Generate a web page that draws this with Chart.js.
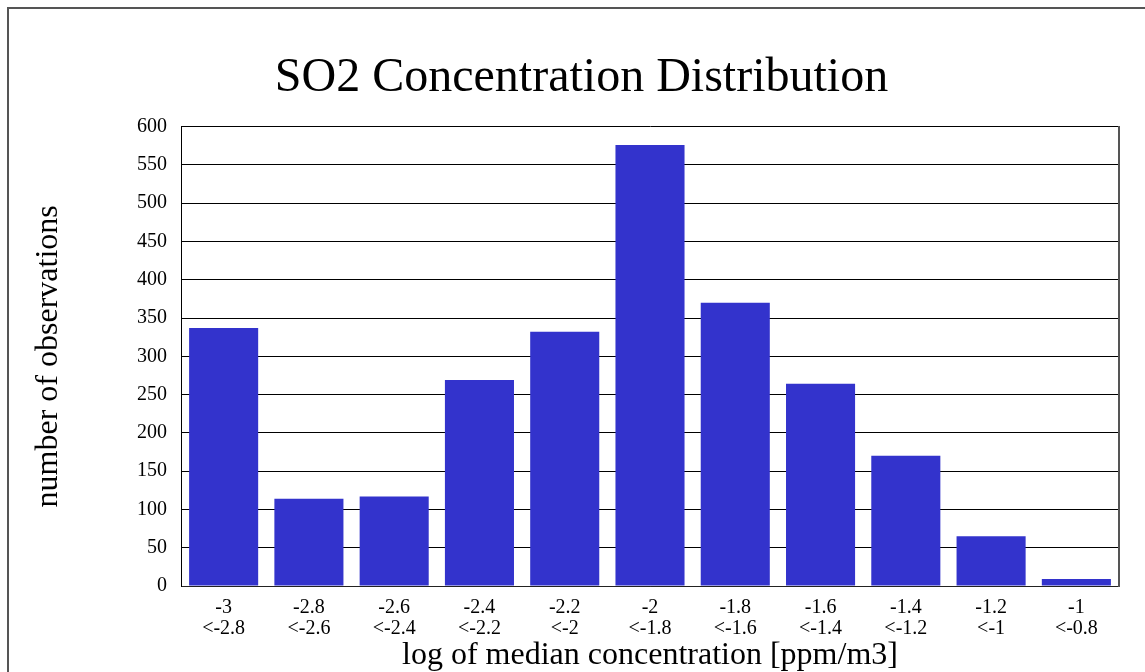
<!DOCTYPE html>
<html>
<head>
<meta charset="utf-8">
<script src="https://cdn.jsdelivr.net/npm/chart.js@4.4.1/dist/chart.umd.min.js"></script>
<style>
  body { margin: 0; background: #fff; overflow: hidden; }
  #wrap { position: relative; width: 1145px; height: 672px; }
  #frame { position: absolute; left: 7px; top: 7px; width: 1200px; height: 700px; border: 2px solid #555; box-sizing: border-box; }
  #soChart { position: absolute; left: 0; top: 0; }
</style>
</head>
<body>
<div id="wrap">
  <div id="frame"></div>
  <canvas id="soChart" width="1145" height="672"></canvas>
</div>
<script>
// bins of log(median concentration)
const binStart = ['-3', '-2.8', '-2.6', '-2.4', '-2.2', '-2', '-1.8', '-1.6', '-1.4', '-1.2', '-1'];
const binEnd = ['<-2.8', '<-2.6', '<-2.4', '<-2.2', '<-2', '<-1.8', '<-1.6', '<-1.4', '<-1.2', '<-1', '<-0.8'];
const counts = [337, 114, 117, 269, 332, 576, 370, 264, 170, 65, 9];

const labels = binStart.map((s, i) => [s, binEnd[i]]);

const SERIF = '"Liberation Serif", "DejaVu Serif", serif';

const ctx = document.getElementById('soChart').getContext('2d');
const chart = new Chart(ctx, {
  type: 'bar',
  data: {
    labels: labels,
    datasets: [{
      label: 'observations',
      data: counts,
      backgroundColor: '#3333cc',
      borderWidth: 0,
      categoryPercentage: 1.0,
      barPercentage: 0.81
    }]
  },
  options: {
    responsive: false,
    animation: false,
    layout: { padding: { left: 18, right: 0, top: 0, bottom: 0 } },
    plugins: {
      legend: { display: false },
      tooltip: { enabled: false },
      title: {
        display: true,
        text: 'SO2 Concentration Distribution',
        color: '#000',
        font: { family: SERIF, size: 48, weight: 'normal', lineHeight: 1.2 },
        padding: { top: 50, bottom: 19 }
      }
    },
    scales: {
      x: {
        grid: { display: false, drawTicks: false },
        border: { display: true, color: '#222', width: 1 },
        ticks: {
          color: '#000',
          padding: 11,
          maxRotation: 0,
          autoSkip: false,
          font: { family: SERIF, size: 20, lineHeight: 1.07 }
        },
        title: {
          display: true,
          text: 'log of median concentration [ppm/m3]',
          color: '#000',
          font: { family: SERIF, size: 32, lineHeight: 1.0 },
          padding: { top: 0, bottom: 0 }
        },
        afterFit(scale) { scale.height = 86; }
      },
      y: {
        min: 0,
        max: 600,
        ticks: {
          stepSize: 50,
          color: '#000',
          padding: 14,
          font: { family: SERIF, size: 20 }
        },
        grid: { color: '#000', lineWidth: 1, drawTicks: false },
        border: { display: true, color: '#000', width: 1 },
        title: {
          display: true,
          text: 'number of observations',
          color: '#000',
          font: { family: SERIF, size: 32, lineHeight: 1.0 },
          padding: { top: 15, bottom: 0 }
        },
        afterFit(scale) { scale.width = 163; }
      },
      yRight: {
        position: 'right',
        display: true,
        min: 0,
        max: 600,
        grid: { display: false, drawTicks: false },
        border: { display: true, color: '#555', width: 2 },
        ticks: { display: false },
        afterFit(scale) { scale.width = 26; }
      }
    }
  }
});
</script>
</body>
</html>
